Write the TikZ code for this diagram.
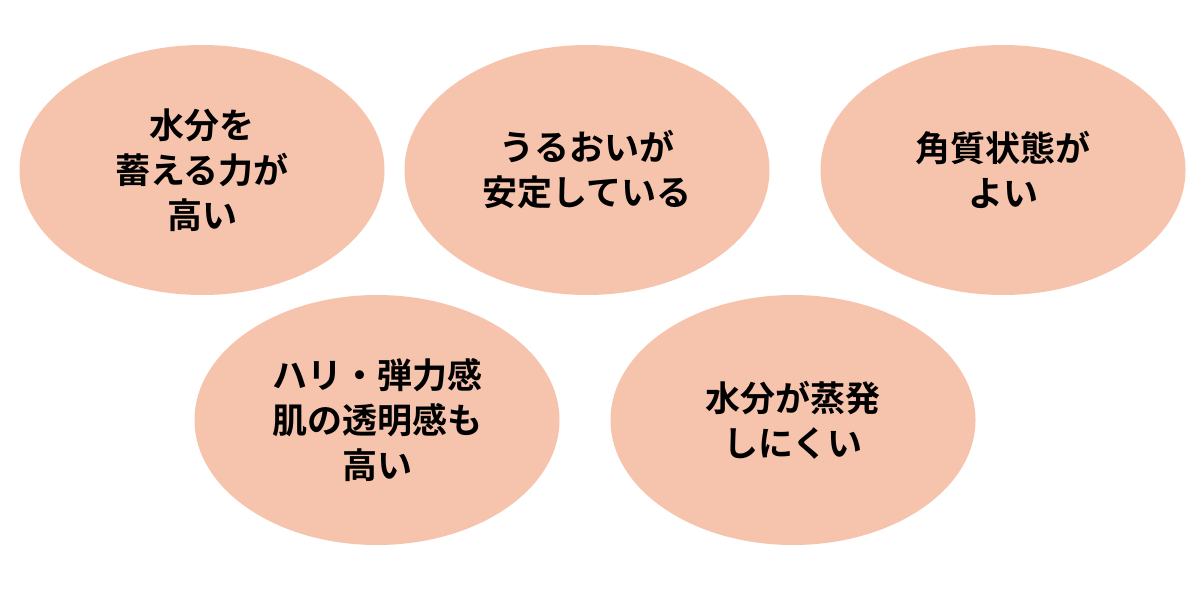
\documentclass[tikz,border=0pt]{standalone}
\usepackage{fontspec}
\newfontfamily\cjk{Noto Sans CJK JP}[BoldFont={Noto Sans CJK JP Bold}]
\usetikzlibrary{shapes.geometric}
\definecolor{bubblefill}{HTML}{F6C3AC}
\tikzset{
  bubble/.style={ellipse, fill=bubblefill, minimum width=365pt, minimum height=250pt,
    inner sep=0pt, align=center, font=\cjk\bfseries\fontsize{35}{45}\selectfont}
}
\begin{document}
\begin{tikzpicture}[x=1pt,y=-1pt]
  \useasboundingbox (0,0) rectangle (1204,615);

  \node[bubble] (store) at (202,170) {水分を\\蓄える力が\\高い};
  \node[bubble] (moist) at (587,170) {うるおいが\\安定している};
  \node[bubble] (horny) at (1003,170) {角質状態が\\よい};
  \node[bubble] (elastic) at (377,420) {ハリ・弾力感\\肌の透明感も\\高い};
  \node[bubble] (evap) at (793,420) {水分が蒸発\\しにくい};

\end{tikzpicture}
\end{document}
